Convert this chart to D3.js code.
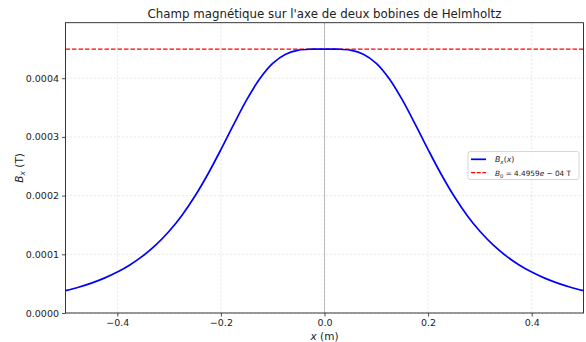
<!DOCTYPE html>
<html><head><meta charset="utf-8">
<script src="https://cdn.jsdelivr.net/npm/d3@7"></script>
<style>body{margin:0;background:#fff}svg{display:block}text{font-family:"DejaVu Sans",sans-serif;fill:#222}</style>
</head><body><div id="chart"></div>
<script>
const xPositions = [-0.5,-0.475,-0.45,-0.425,-0.4,-0.375,-0.35,-0.325,-0.3,-0.275,-0.25,-0.225,-0.2,-0.175,-0.15,-0.125,-0.1,-0.075,-0.05,-0.025,0,0.025,0.05,0.075,0.1,0.125,0.15,0.175,0.2,0.225,0.25,0.275,0.3,0.325,0.35,0.375,0.4,0.425,0.45,0.475,0.5];
const bField = [3.803e-5,4.388e-5,5.091e-5,5.940e-5,6.972e-5,8.229e-5,9.763e-5,1.1637e-4,1.3917e-4,1.6665e-4,1.9922e-4,2.3680e-4,2.7842e-4,3.2182e-4,3.6344e-4,3.9906e-4,4.2524e-4,4.4084e-4,4.4771e-4,4.4946e-4,4.4959e-4,4.4946e-4,4.4771e-4,4.4084e-4,4.2524e-4,3.9906e-4,3.6344e-4,3.2182e-4,2.7842e-4,2.3680e-4,1.9922e-4,1.6665e-4,1.3917e-4,1.1637e-4,9.763e-5,8.229e-5,6.972e-5,5.940e-5,5.091e-5,4.388e-5,3.803e-5];
const B0 = 4.4959e-4;
const xTicks = [-0.4,-0.2,0.0,0.2,0.4];
const yTicks = [0,0.0001,0.0002,0.0003,0.0004];

const W=586,H=342;
const m={l:65.5,r:583.5,t:22.7,b:313};
const svg=d3.select("#chart").append("svg").attr("width",W).attr("height",H);
const x=d3.scaleLinear().domain([-0.5,0.5]).range([m.l,m.r]);
const y=d3.scaleLinear().domain([0,B0*1.1]).range([m.b,m.t]);

// grid
const g=svg.append("g");
g.selectAll(".gx").data(xTicks).join("line").attr("x1",d=>x(d)).attr("x2",d=>x(d)).attr("y1",m.t).attr("y2",m.b)
 .attr("stroke","#b0b0b0").attr("stroke-opacity",0.45).attr("stroke-width",0.6).attr("stroke-dasharray","2.5,1.5");
g.selectAll(".gy").data(yTicks).join("line").attr("y1",d=>y(d)).attr("y2",d=>y(d)).attr("x1",m.l).attr("x2",m.r)
 .attr("stroke","#b0b0b0").attr("stroke-opacity",0.45).attr("stroke-width",0.6).attr("stroke-dasharray","2.5,1.5");
// x=0 line
svg.append("line").attr("x1",x(0)).attr("x2",x(0)).attr("y1",m.t).attr("y2",m.b).attr("stroke","#808080").attr("stroke-opacity",0.55).attr("stroke-width",0.9);

// B0 line
svg.append("line").attr("x1",m.l).attr("x2",m.r).attr("y1",y(B0)).attr("y2",y(B0)).attr("stroke","#ff0000").attr("stroke-width",1.3).attr("stroke-dasharray","4.5,2");

// curve
const line=d3.line().x((d,i)=>x(xPositions[i])).y(d=>y(d)).curve(d3.curveCatmullRom.alpha(0.5));
svg.append("path").datum(bField).attr("d",line).attr("fill","none").attr("stroke","#0000ff").attr("stroke-width",1.7);

// axes
const xa=svg.append("g").attr("transform",`translate(0,${m.b})`).call(d3.axisBottom(x).tickValues(xTicks).tickSize(3.5).tickPadding(3).tickFormat(d=>d3.format(".1f")(d).replace("-","\u2212")));
const ya=svg.append("g").attr("transform",`translate(${m.l},0)`).call(d3.axisLeft(y).tickValues(yTicks).tickSize(3.5).tickPadding(3).tickFormat(d3.format(".4f")));
[xa,ya].forEach(a=>{a.select(".domain").remove();a.selectAll("text").attr("font-size",9.5).attr("fill","#222").attr("font-family","DejaVu Sans");a.selectAll("line").attr("stroke","#222").attr("stroke-width",0.8);});
svg.append("rect").attr("x",m.l).attr("y",m.t).attr("width",m.r-m.l).attr("height",m.b-m.t).attr("fill","none").attr("stroke","#222").attr("stroke-width",0.9);

// title
svg.append("text").attr("x",(m.l+m.r)/2).attr("y",18).attr("text-anchor","middle").attr("font-size",11.8).text("Champ magnétique sur l'axe de deux bobines de Helmholtz");
// x label
const xl=svg.append("text").attr("x",(m.l+m.r)/2).attr("y",339.5).attr("text-anchor","middle").attr("font-size",10.5);
xl.append("tspan").attr("font-style","italic").text("x");
xl.append("tspan").text(" (m)");
// y label
const yl=svg.append("text").attr("transform",`translate(22.5,${(m.t+m.b)/2}) rotate(-90)`).attr("text-anchor","middle").attr("font-size",10.5);
yl.append("tspan").attr("font-style","italic").text("B");
yl.append("tspan").attr("font-style","italic").attr("font-size",7.5).attr("dy",2.5).text("x");
yl.append("tspan").attr("dy",-2.5).text(" (T)");

// legend
const lg=svg.append("g");
lg.append("rect").attr("x",468).attr("y",151.5).attr("width",111).attr("height",28).attr("rx",2).attr("fill","#fff").attr("fill-opacity",0.8).attr("stroke","#ccc").attr("stroke-width",0.8);
lg.append("line").attr("x1",471).attr("x2",486).attr("y1",159.3).attr("y2",159.3).attr("stroke","#0000ff").attr("stroke-width",1.7);
lg.append("line").attr("x1",471).attr("x2",486).attr("y1",172.7).attr("y2",172.7).attr("stroke","#ff0000").attr("stroke-width",1.3).attr("stroke-dasharray","4,1.7");
const t1=lg.append("text").attr("x",495).attr("y",162.3).attr("font-size",7.8);
t1.append("tspan").attr("font-style","italic").text("B");
t1.append("tspan").attr("font-style","italic").attr("font-size",5.5).attr("dy",1.8).text("x");
t1.append("tspan").attr("dy",-1.8).text("(");
t1.append("tspan").attr("font-style","italic").text("x");
t1.append("tspan").text(")");
const t2=lg.append("text").attr("x",495).attr("y",175.8).attr("font-size",7.3);
t2.append("tspan").attr("font-style","italic").text("B");
t2.append("tspan").attr("font-size",5.2).attr("dy",1.8).text("0");
t2.append("tspan").attr("dy",-1.8).text(" = 4.4959");
t2.append("tspan").attr("font-style","italic").text("e");
t2.append("tspan").text(" \u2212 04 T");
</script></body></html>
